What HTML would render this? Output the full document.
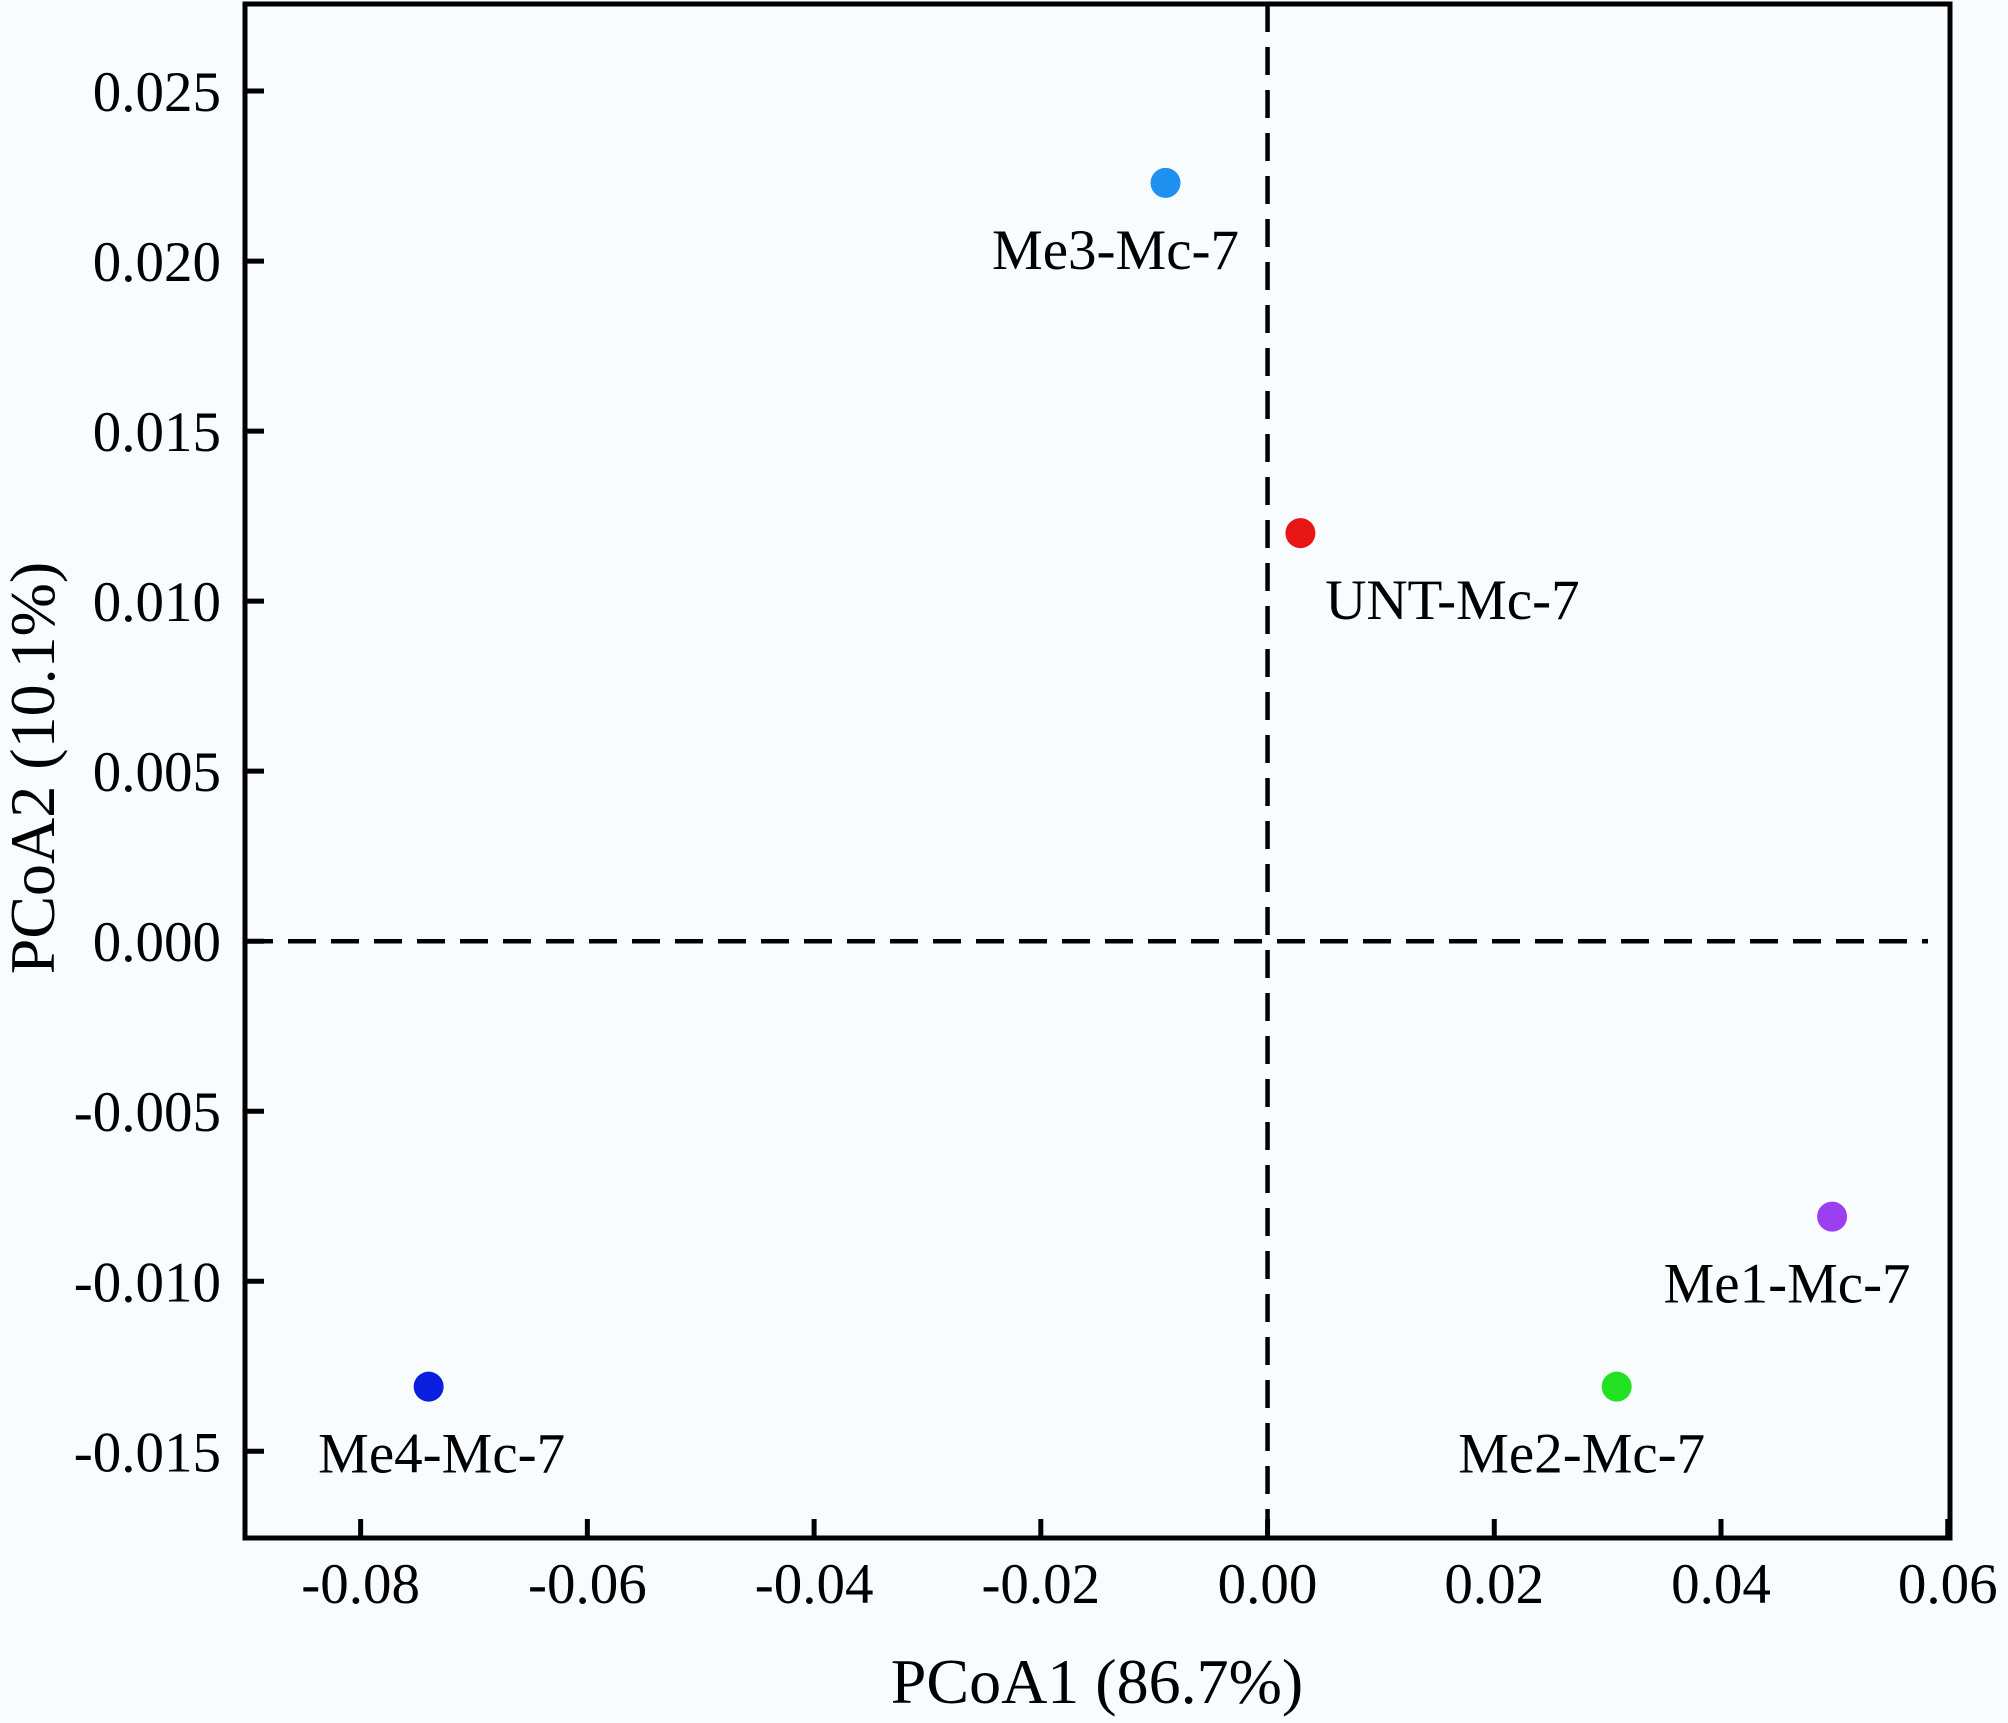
<!DOCTYPE html>
<html><head><meta charset="utf-8"><style>
html,body{margin:0;padding:0;background:#f8fcfe;}
svg{display:block;font-family:"Liberation Serif",serif;}
</style></head><body>
<svg id="chart" width="2008" height="1723">
<rect width="2008" height="1723" fill="#f8fcfe"/>
<g id="g"></g>
</svg>
<script>
const labels=["Me3-Mc-7","UNT-Mc-7","Me1-Mc-7","Me2-Mc-7","Me4-Mc-7"];
const xVals=[-0.0090,0.0029,0.0498,0.0308,-0.0740];
const yVals=[0.0223,0.0120,-0.0081,-0.0131,-0.0131];
const colors=["#1f8ff0","#e81515","#9b3ff0","#22e022","#0a1ee0"];
const xTicks=[-0.08,-0.06,-0.04,-0.02,0.00,0.02,0.04,0.06];
const xTickLabels=["-0.08","-0.06","-0.04","-0.02","0.00","0.02","0.04","0.06"];
const yTicks=[-0.015,-0.010,-0.005,0.000,0.005,0.010,0.015,0.020,0.025];
const yTickLabels=["-0.015","-0.010","-0.005","0.000","0.005","0.010","0.015","0.020","0.025"];
const L=245,R=1950,T=4,B=1538;
const xMin=-0.0902,xMax=0.0602,yMin=-0.01755,yMax=0.02756;
function sx(v){return L+(v-xMin)/(xMax-xMin)*(R-L);}
function sy(v){return B-(v-yMin)/(yMax-yMin)*(B-T);}
const NS="http://www.w3.org/2000/svg";
const g=document.getElementById('g');
function mk(t,a,txt){const e=document.createElementNS(NS,t);for(const k in a)e.setAttribute(k,a[k]);if(txt!=null)e.textContent=txt;g.appendChild(e);return e;}
let e;
e=mk('line',{x1:sx(0),x2:sx(0),y1:T,y2:B,stroke:'#000','stroke-width':4.5,'stroke-dasharray':'28 15'});


e=mk('line',{x1:L,x2:R-22,y1:sy(0),y2:sy(0),stroke:'#000','stroke-width':4.5,'stroke-dasharray':'28 15'});


e=mk('rect',{x:L,y:T,width:R-L,height:B-T,fill:'none',stroke:'#000','stroke-width':5});


xTicks.forEach((v,i)=>{
  e=mk('line',{x1:sx(v),x2:sx(v),y1:B,y2:B-19,stroke:'#000','stroke-width':5});
  
  
  e=mk('text',{x:sx(v),y:1603,'text-anchor':'middle','font-size':57},xTickLabels[i]);
  
  
});
yTicks.forEach((v,i)=>{
  e=mk('line',{x1:L,x2:L+19,y1:sy(v),y2:sy(v),stroke:'#000','stroke-width':5});
  
  
  e=mk('text',{x:221,y:sy(v)+20,'text-anchor':'end','font-size':57},yTickLabels[i]);
  
  
});
const dx=[-50,152,-45,-35,13];
labels.forEach((lb,i)=>{
  e=mk('circle',{cx:sx(xVals[i]),cy:sy(yVals[i]),r:15,fill:colors[i]});
  
  
  e=mk('text',{x:sx(xVals[i])+dx[i],y:sy(yVals[i])+86,'text-anchor':'middle','font-size':57},lb);
  
  
});
e=mk('text',{x:1097,y:1703,'text-anchor':'middle','font-size':64},'PCoA1 (86.7%)');


e=mk('text',{x:0,y:0,'text-anchor':'middle','font-size':64,transform:'translate(54,768) rotate(-90)'},'PCoA2 (10.1%)');


</script>
</body></html>
